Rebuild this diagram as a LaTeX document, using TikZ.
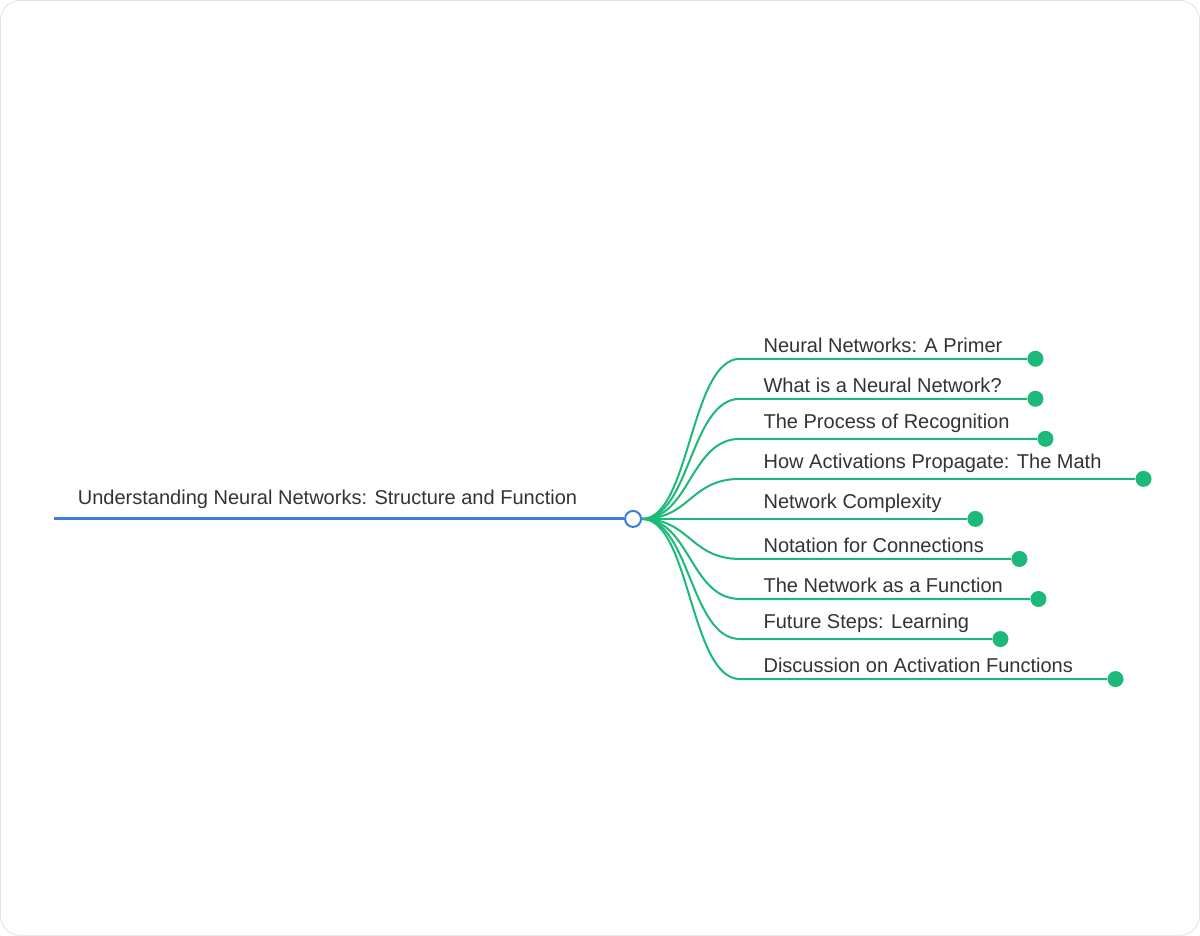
\documentclass[tikz,border=0pt]{standalone}
\usepackage{fontspec}
\setmainfont{Liberation Sans}
\definecolor{rootblue}{HTML}{3B7DDD}
\definecolor{leafgreen}{HTML}{1DB97A}
\definecolor{textgray}{HTML}{333333}
\tikzset{
  label text/.style={anchor=south west, inner sep=1pt, text=textgray, font=\fontsize{10}{12}\selectfont},
  leaf dot/.style={circle, fill=leafgreen, minimum size=8pt, inner sep=0pt},
  branch/.style={leafgreen, line width=1pt}
}
\begin{document}
\begin{tikzpicture}[x=0.5pt,y=-0.5pt]
				\draw [rounded corners=10pt, draw=black!12, fill=white] (1,1) rectangle (1199,935);
				\coordinate (start) at (55,519);
				\node (hub) [circle, draw=rootblue, fill=white, line width=1pt, minimum size=8pt, inner sep=0pt] at (633,519) {};
				\draw [rootblue, line width=1.5pt] (start) -- (hub.west);
				\node (root) [label text] at (76,511) {Understanding Neural Networks: Structure and Function};
				\foreach \y/\x/\name/\txt in {
					359/1035/primer/{Neural Networks: A Primer},
					399/1035/what/{What is a Neural Network?},
					439/1045/recog/{The Process of Recognition},
					479/1143/math/{How Activations Propagate: The Math},
					519/975/complex/{Network Complexity},
					559/1019/notation/{Notation for Connections},
					599/1038/func/{The Network as a Function},
					639/1000/future/{Future Steps: Learning},
					679/1115/disc/{Discussion on Activation Functions}} {
					\node (\name) [label text] at (761,\y-4) {\txt};
					\node (\name-dot) [leaf dot] at (\x,\y) {};
					\coordinate (\name-bend) at (740,\y);
					\draw [branch] (hub.east) .. controls (690,519) and (690,\y) .. (\name-bend) -- (\name-dot);
				}
			\end{tikzpicture}
\end{document}
